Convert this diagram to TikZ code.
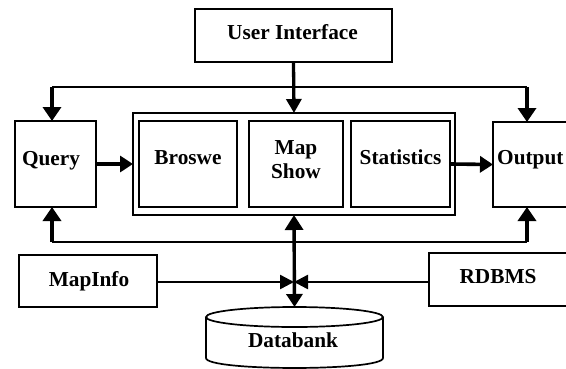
\documentclass[tikz,border=0pt]{standalone}
\usepackage{fontspec}
\setmainfont{Liberation Serif}
\usetikzlibrary{arrows.meta,calc}
\begin{document}
\begin{tikzpicture}[x=1pt,y=-1pt,
  box/.style={draw,line width=1.7pt,inner sep=0pt,outer sep=0pt,fill=white},
  txt/.style={font=\fontsize{21.3}{24}\selectfont\bfseries,inner sep=0pt,anchor=base},
  busline/.style={line width=1.7pt},
  droparrow/.style={line width=4pt,-{Triangle[length=14pt,width=18pt]}},
  sidearrow/.style={line width=3.6pt,-{Triangle[length=13pt,width=16pt]}},
  stemarrow/.style={line width=3.3pt,-{Triangle[length=14pt,width=15pt]}},
  midarrow/.style={line width=2.5pt,-{Triangle[length=14pt,width=14pt]}},
  dbarrow/.style={line width=3.4pt,{Triangle[length=15pt,width=18pt]}-{Triangle[length=13pt,width=16pt]}}]
\useasboundingbox (0,0) rectangle (566,368);
\clip (0,0) rectangle (566,368);

% boxes
\node[box,minimum width=197pt,minimum height=53pt] (ui) at (293.5,35.5) {};
\node[box,minimum width=81pt,minimum height=86pt] (query) at (55.5,164) {};
\node[box,minimum width=322pt,minimum height=102pt] (outer) at (294,164) {};
\node[box,minimum width=98pt,minimum height=86pt] (broswe) at (188,164) {};
\node[box,minimum width=94pt,minimum height=86pt] (mapshow) at (296,164) {};
\node[box,minimum width=99pt,minimum height=86pt] (stats) at (400.5,164) {};
\node[box,minimum width=74pt,minimum height=85pt] (output) at (530,164.5) {};
\node[box,minimum width=138pt,minimum height=52pt] (mapinfo) at (88,281) {};
\node[box,minimum width=138pt,minimum height=53pt] (rdbms) at (498,279.5) {};

% texts
\node[txt] (uit) at (292.5,39.3) {User Interface};
\node[txt] (queryt) at (51,165) {Query};
\node[txt] (broswet) at (188,164) {Broswe};
\node[txt] (mapt) at (296,154) {Map};
\node[txt] (showt) at (296,178.5) {Show};
\node[txt] (statst) at (400.5,164.5) {Statistics};
\node[txt,anchor=base west] (outputt) at (497,164) {Output};
\node[txt] (mapinfot) at (89,286) {MapInfo};
\node[txt] (rdbmst) at (498,283.5) {RDBMS};

% databank cylinder
\filldraw[line width=1.7pt,fill=white] (206,317) -- (206,358) .. controls (206,371.3) and (383,371.3) .. (383,358) -- (383,317);
\filldraw[line width=1.7pt,fill=white] (294.5,317) ellipse [x radius=88.5pt, y radius=10pt];
\node[txt] (dbt) at (293,347) {Databank};
\coordinate (dbtop) at (294.5,307);

% helper coordinates
\coordinate (busT) at (0,87);
\coordinate (busB) at (0,242);
\coordinate (qn) at ([xshift=-3.5pt]query.north);
\coordinate (qs) at ([xshift=-3.5pt]query.south);
\coordinate (on) at ([xshift=-3pt]output.north);
\coordinate (os) at ([xshift=-3pt]output.south);
\coordinate (j) at (294,282);

% top bus
\draw[stemarrow] (ui.south) -- (outer.north);
\draw[busline] (qn |- busT) -- (on |- busT);
\draw[droparrow] (qn |- busT) -- (qn);
\draw[droparrow] (on |- busT) -- (on);

% bottom bus
\draw[busline] (qs |- busB) -- (os |- busB);
\draw[droparrow] (qs |- busB) -- (qs);
\draw[droparrow] (os |- busB) -- (os);

% horizontal arrows
\draw[sidearrow] (query.east) -- (outer.west);
\draw[sidearrow] (stats.east) -- (output.west);

% database links
\draw[midarrow] (mapinfo.east |- j) -- (j);
\draw[midarrow] (rdbms.west |- j) -- (j);
\draw[dbarrow] (outer.south) -- (dbtop);
\end{tikzpicture}
\end{document}
